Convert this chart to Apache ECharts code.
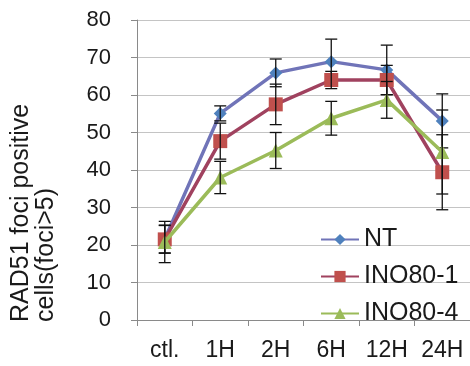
<!DOCTYPE html>
<html>
<head>
<meta charset="utf-8">
<script src="https://cdn.jsdelivr.net/npm/echarts@6/dist/echarts.min.js"></script>
<style>
  html, body { margin: 0; padding: 0; background: #fff; }
  #chart { width: 470px; height: 366px; }
</style>
</head>
<body>
<div id="chart"></div>
<script>
// values
const categories = ['ctl.', '1H', '2H', '6H', '12H', '24H']
const yTicks = [0, 10, 20, 30, 40, 50, 60, 70, 80]

const ntValues = [21.6, 55.1, 65.9, 68.9, 66.7, 53.1]
const ntErr = [3.7, 2.0, 3.7, 6.0, 6.6, 7.2]

const ino1Values = [21.5, 47.7, 57.5, 64.0, 64.0, 39.4]
const ino1Err = [3.7, 4.8, 5.4, 2.3, 3.9, 10.0]

const ino4Values = [20.8, 38.0, 45.2, 53.8, 58.7, 44.8]
const ino4Err = [5.5, 4.3, 4.8, 4.5, 4.9, 11.2]

const FONT = '"Liberation Sans", Arial, sans-serif'

function errData(values, errs) {
  return values.map((v, i) => [i, v - errs[i], v + errs[i]])
}

function errSeries(name, values, errs, z) {
  return {
    type: 'custom',
    name: name + ' err',
    z: z,
    silent: true,
    data: errData(values, errs),
    renderItem: function (params, api) {
      const lo = api.coord([api.value(0), api.value(1)])
      const hi = api.coord([api.value(0), api.value(2)])
      const half = 6
      const style = {stroke: '#111', lineWidth: 1.3}
      return {
        type: 'group',
        children: [
          {type: 'line', shape: {x1: lo[0], y1: lo[1], x2: hi[0], y2: hi[1]}, style: style},
          {type: 'line', shape: {x1: lo[0] - half, y1: lo[1], x2: lo[0] + half, y2: lo[1]}, style: style},
          {type: 'line', shape: {x1: hi[0] - half, y1: hi[1], x2: hi[0] + half, y2: hi[1]}, style: style}
        ]
      }
    }
  }
}

function lineSeries(name, values, lineColor, markColor, symbol, size, z) {
  return {
    type: 'line',
    name: name,
    z: z,
    data: values,
    symbol: symbol,
    symbolSize: size,
    showAllSymbol: true,
    lineStyle: {color: lineColor, width: 3.5},
    itemStyle: {color: markColor},
    emphasis: {disabled: true}
  }
}

const chart = echarts.init(document.getElementById('chart'))

chart.setOption({
  animation: false,
  backgroundColor: '#fff',
  grid: {left: 137, right: -3, top: 20, bottom: 46},
  legend: {
    data: ['NT', 'INO80-1', 'INO80-4'],
    orient: 'vertical',
    left: 315,
    top: 222,
    itemWidth: 38,
    itemHeight: 14,
    itemGap: 12,
    textStyle: {fontFamily: FONT, fontSize: 25, color: '#1a1a1a', lineHeight: 25}
  },
  xAxis: {
    type: 'category',
    data: categories,
    boundaryGap: true,
    axisLine: {lineStyle: {color: '#8a8a8a', width: 1}},
    axisTick: {show: true, length: 6, lineStyle: {color: '#8a8a8a'}},
    axisLabel: {fontFamily: FONT, fontSize: 23, color: '#1a1a1a', margin: 19, interval: 0}
  },
  yAxis: {
    type: 'value',
    min: yTicks[0],
    max: yTicks[yTicks.length - 1],
    interval: 10,
    axisLine: {show: true, lineStyle: {color: '#8a8a8a', width: 1}},
    axisTick: {show: true, length: 6, lineStyle: {color: '#8a8a8a'}},
    splitLine: {lineStyle: {color: '#c4c4c4', width: 1}},
    axisLabel: {fontFamily: FONT, fontSize: 22, color: '#1a1a1a', margin: 26}
  },
  graphic: [{
    type: 'text',
    x: 9,
    y: 322,
    rotation: Math.PI / 2,
    style: {
      text: 'RAD51 foci positive\ncells(foci>5)',
      font: '25px ' + FONT,
      fill: '#1a1a1a',
      align: 'left',
      verticalAlign: 'top',
      lineHeight: 25
    }
  }],
  series: [
    lineSeries('NT', ntValues, '#7074B8', '#4F81BD', 'diamond', 13, 2),
    errSeries('NT', ntValues, ntErr, 3),
    lineSeries('INO80-1', ino1Values, '#A0425F', '#C0504D', 'rect', 14, 4),
    errSeries('INO80-1', ino1Values, ino1Err, 5),
    lineSeries('INO80-4', ino4Values, '#9BBB59', '#9BBB59', 'triangle', 14, 6),
    errSeries('INO80-4', ino4Values, ino4Err, 7)
  ]
})
</script>
</body>
</html>
